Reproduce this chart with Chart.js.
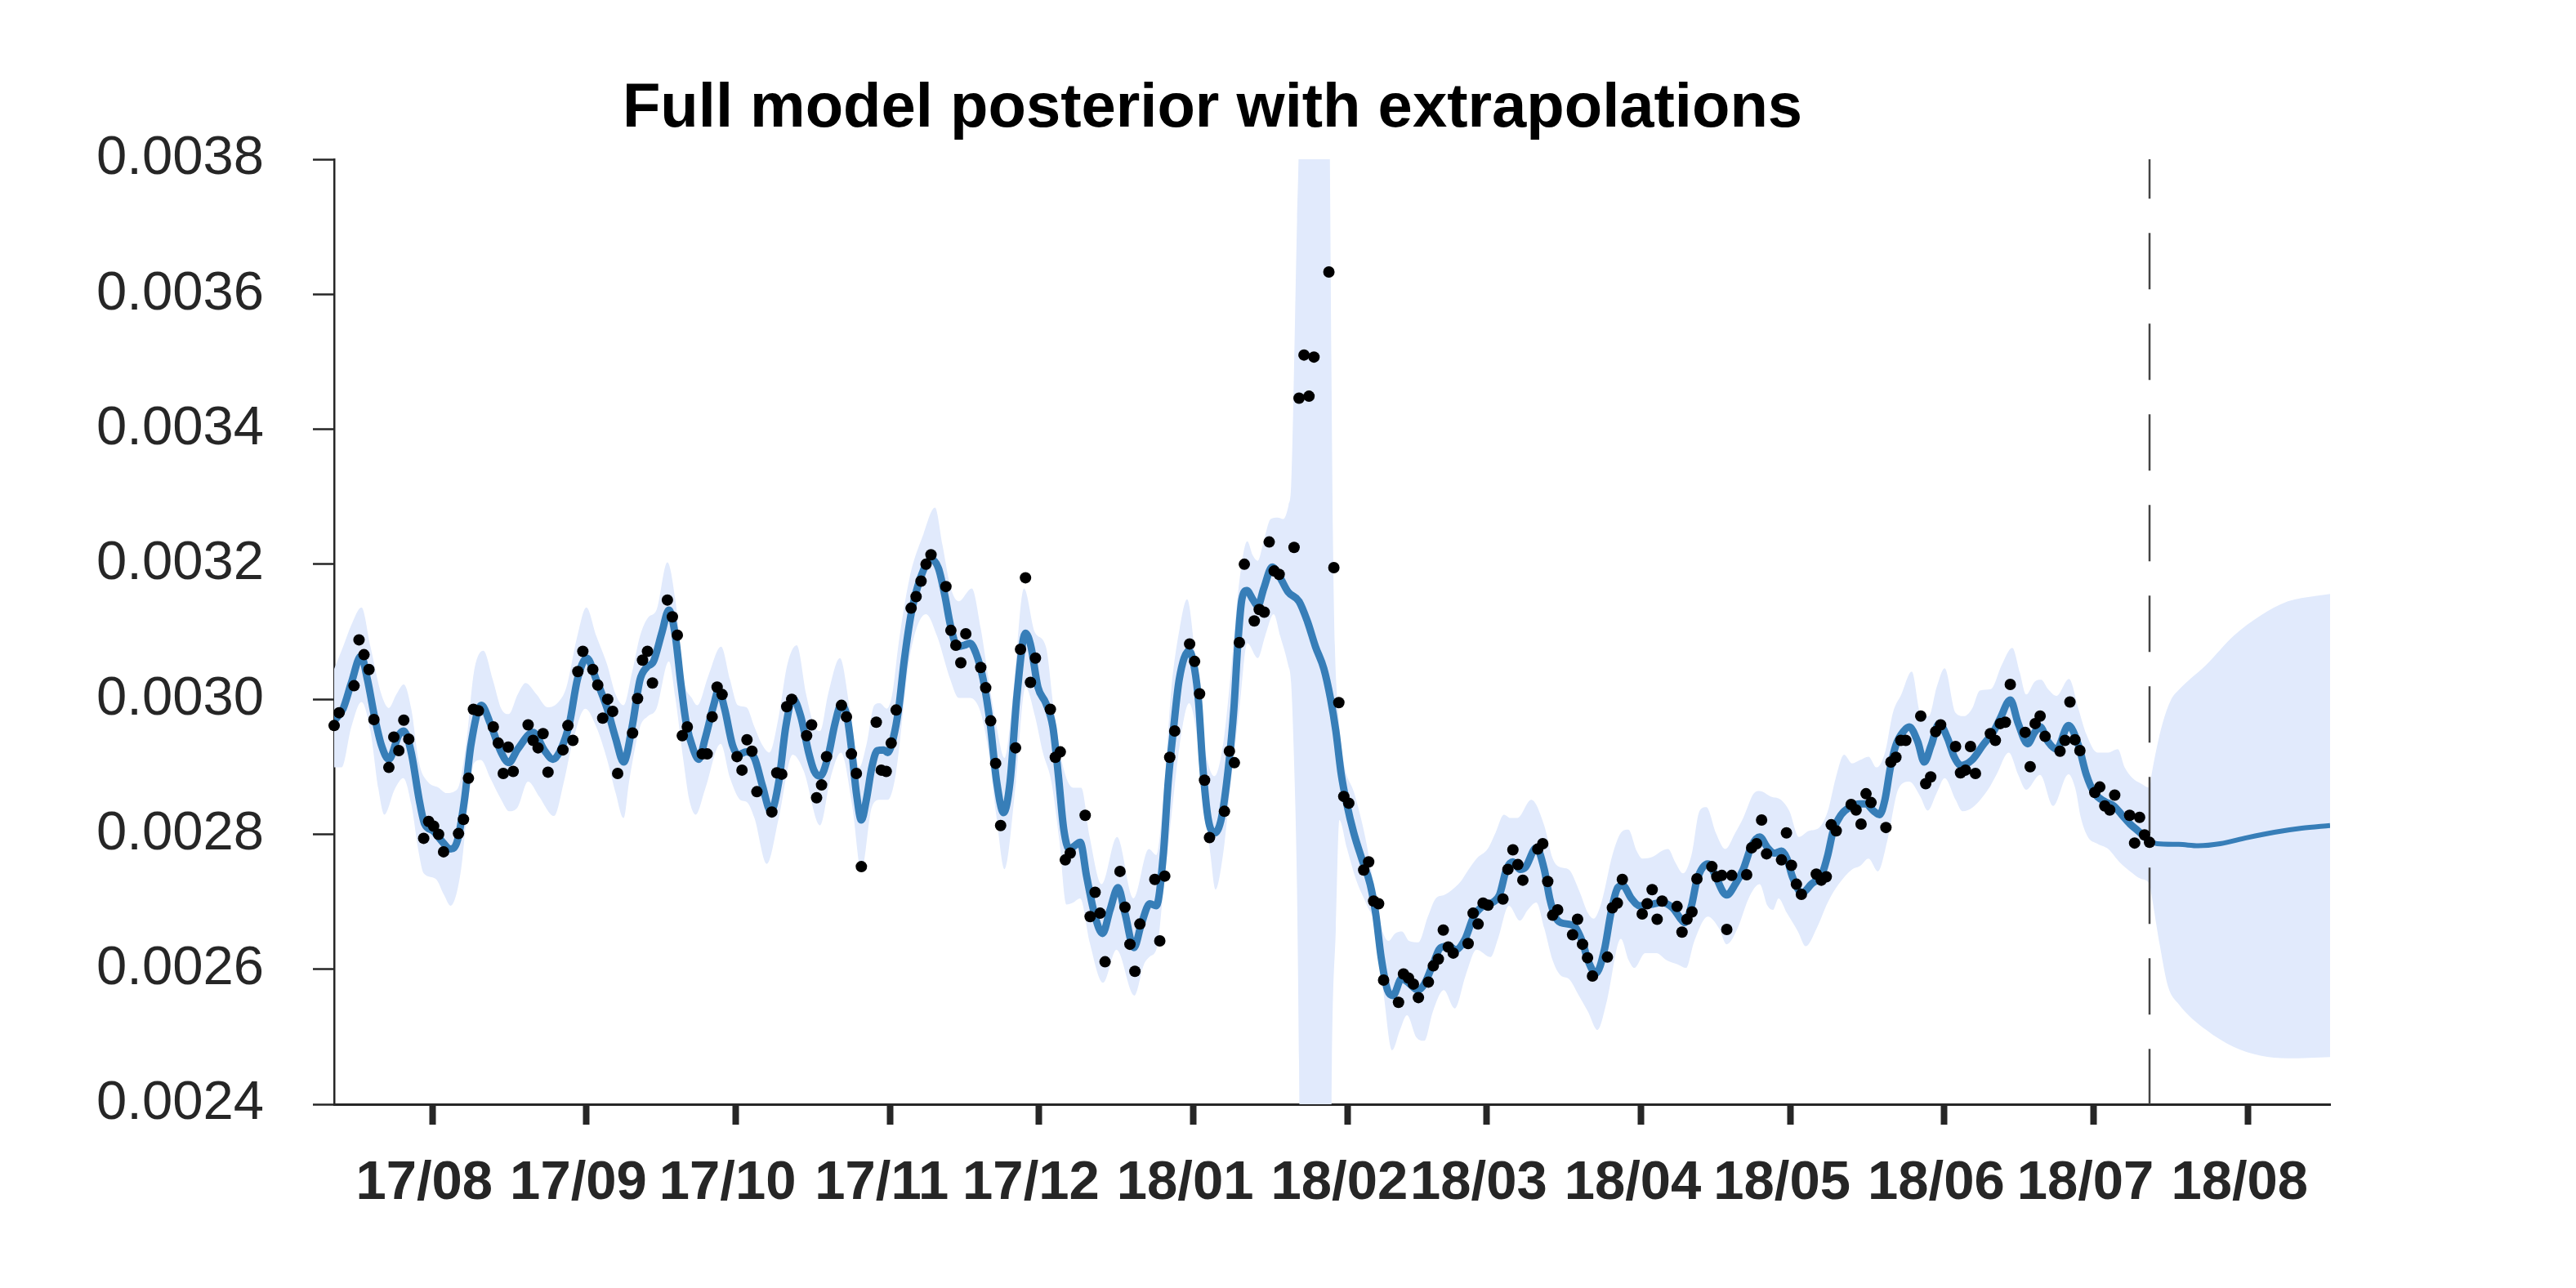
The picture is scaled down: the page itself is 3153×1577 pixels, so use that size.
<!DOCTYPE html>
<html>
<head>
<meta charset="utf-8">
<script src="https://cdn.jsdelivr.net/npm/chart.js@4.4.1/dist/chart.umd.min.js"></script>
<style>
  html, body { margin: 0; padding: 0; background: #fff; }
  canvas { display: block; }
</style>
</head>
<body>
<canvas id="grafico" width="3153" height="1577"></canvas>
<script>
// ---- dados ----
const titulo = 'Full model posterior with extrapolations';

// dias de cotação: seg-sex entre as datas, menos feriados, mais alguns domingos que aparecem
const inicio = '2017-07-13';
const fim = '2018-07-13';
const feriados = ['2018-03-30'];
const domingosExtra = ['2017-09-03', '2018-01-14', '2018-02-18'];

// uma linha por semana
const cotacao = [
  0.002961, 0.002980,
  0.003020, 0.003088, 0.003066, 0.003044, 0.002970,
  0.002899, 0.002944, 0.002924, 0.002969, 0.002941,
  0.002794, 0.002819, 0.002812, 0.002800, 0.002774,
  0.002801, 0.002822, 0.002883, 0.002985, 0.002983,
  0.002959, 0.002935, 0.002890, 0.002929, 0.002893,
  0.002962, 0.002939, 0.002928, 0.002949, 0.002892,
  0.002925, 0.002961, 0.002939, 0.003041, 0.003071,
  0.003044, 0.003021, 0.002972, 0.003000, 0.002982, 0.002890,
  0.002950, 0.003001, 0.003058, 0.003071, 0.003024,
  0.003147, 0.003122, 0.003095, 0.002946, 0.002959,
  0.002919, 0.002919, 0.002974, 0.003018, 0.003007,
  0.002915, 0.002895, 0.002940, 0.002923, 0.002863,
  0.002833, 0.002891, 0.002889, 0.002989, 0.003000,
  0.002946, 0.002962, 0.002854, 0.002873, 0.002915,
  0.002991, 0.002974, 0.002919, 0.002890, 0.002752,
  0.002966, 0.002895, 0.002893, 0.002935, 0.002984,
  0.003135, 0.003152, 0.003175, 0.003200, 0.003214,
  0.003167, 0.003102, 0.003080, 0.003054, 0.003097,
  0.003047, 0.003017, 0.002968, 0.002905, 0.002813,
  0.002928, 0.003074, 0.003180, 0.003025, 0.003061,
  0.002985, 0.002914, 0.002922, 0.002762, 0.002772,
  0.002828, 0.002678, 0.002714, 0.002683, 0.002611,
  0.002745, 0.002692, 0.002637, 0.002597, 0.002667,
  0.002733, 0.002642, 0.002738, 0.002914, 0.002953,
  0.003082, 0.003056, 0.003008, 0.002880, 0.002795,
  0.002834, 0.002923, 0.002906, 0.003084, 0.003200,
  0.003116, 0.003133, 0.003129, 0.003233, 0.003190, 0.003185,
  0.003225, 0.003446, 0.003510, 0.003449, 0.003507,
  0.003633, 0.003195, 0.002995, 0.002856, 0.002846,
  0.002747, 0.002759, 0.002701, 0.002697, 0.002584,
  0.002551, 0.002593, 0.002587, 0.002578, 0.002558,
  0.002581, 0.002605, 0.002615, 0.002658, 0.002633, 0.002624,
  0.002638, 0.002683, 0.002667, 0.002698, 0.002695,
  0.002704, 0.002748, 0.002777, 0.002755, 0.002732,
  0.002778, 0.002786, 0.002730, 0.002680, 0.002688,
  0.002651, 0.002674, 0.002637, 0.002617, 0.002590,
  0.002618, 0.002691, 0.002698, 0.002733,
  0.002682, 0.002697, 0.002718, 0.002674, 0.002701,
  0.002693, 0.002655, 0.002674, 0.002685, 0.002734,
  0.002752, 0.002737, 0.002739, 0.002659, 0.002739,
  0.002740, 0.002780, 0.002786, 0.002821, 0.002771,
  0.002762, 0.002802, 0.002754, 0.002726, 0.002711,
  0.002741, 0.002732, 0.002737, 0.002814, 0.002805,
  0.002844, 0.002836, 0.002815, 0.002860, 0.002847,
  0.002810, 0.002907, 0.002914, 0.002939, 0.002939,
  0.002975, 0.002875, 0.002885, 0.002952, 0.002962,
  0.002930, 0.002891, 0.002895, 0.002930, 0.002890,
  0.002949, 0.002939, 0.002964, 0.002966, 0.003022,
  0.002951, 0.002900, 0.002964, 0.002975, 0.002945,
  0.002923, 0.002939, 0.002996, 0.002940, 0.002924,
  0.002862, 0.002870, 0.002842, 0.002836, 0.002858,
  0.002828, 0.002787, 0.002825, 0.002799, 0.002788
];

// média a posteriori: [dias desde a 1a cotação, valor]
const mediaObs = [
  [0,.002968],[1.8,.002986],[3.45,.003024],[5.4,.003064],[6.7,.003029],[8.1,.002975],[9.5,.002932],[11,.002911],
  [13,.002947],[14,.002953],[15.5,.002921],[17.1,.002851],[18.2,.002815],[19.9,.002805],[21.5,.002791],[23.4,.002778],
  [24.8,.002791],[26.2,.002851],[27.5,.002932],[29.6,.002991],[31.4,.002964],[33.6,.002921],[35.1,.002906],[36.9,.002926],
  [40,.002951],[42.3,.002924],[44,.002911],[45.6,.002926],[47.3,.002964],[48.9,.003029],[50.8,.003061],[52.7,.003029],
  [54.9,.002986],[56.6,.002942],[58.2,.002907],[59.9,.002959],[61.5,.003029],[62.9,.003048],[64.2,.003056],[65.9,.003099],
  [67.3,.003132],[68.6,.003094],[69.7,.003024],[70.8,.002964],[72.2,.002926],[73.3,.002911],[74.6,.002942],[76.3,.002991],
  [77.3,.003014],[78.5,.002986],[80.1,.002932],[81.2,.002918],[82.9,.002922],[84.5,.002913],[86.1,.002872],[87.8,.002834],
  [89.4,.002878],[90.8,.002959],[92.2,.003001],[93.8,.002975],[95.4,.002921],[96.5,.002894],[97.7,.002886],[99.3,.002915],
  [100.7,.002964],[101.9,.002991],[103.1,.002975],[104.2,.002915],[105,.002861],[106,.002821],[107,.002851],[108.1,.002899],
  [109.2,.002924],[110.5,.002925],[111.3,.002921],[112.4,.002942],[113.5,.002986],[114.6,.003056],[116,.003126],[117.9,.003180],
  [120,.003207],[121.5,.003194],[122.8,.003153],[123.9,.003110],[125.3,.003078],[126.7,.003080],[127.8,.003083],[129.1,.003067],
  [130.5,.003029],[131.9,.002964],[133.2,.002878],[134.6,.002832],[135.9,.002878],[137.3,.003007],[139,.003098],[140.1,.003078],
  [141.5,.003018],[143.1,.002994],[144.5,.002959],[145.6,.002888],[146.7,.002807],[147.8,.002778],[148.9,.002783],[150,.002788],
  [151.3,.002737],[153,.002678],[154.5,.002653],[156,.002688],[157.6,.002721],[159,.002683],[160.8,.002632],[162.3,.002667],
  [164,.002697],[165.3,.002694],[166.7,.002769],[167.7,.002878],[168.8,.002959],[169.9,.003029],[171.9,.003072],[173,.003045],
  [173.8,.002996],[174.6,.002905],[175.7,.002824],[177,.002802],[178.4,.002824],[179.8,.002899],[180.9,.002986],[181.7,.003083],
  [182.5,.003148],[183.5,.003161],[184.7,.003148],[185.7,.003138],[186.9,.003164],[188.6,.003196],[190.2,.003180],[191.8,.003159],
  [194,.003145],[195.7,.003115],[197.3,.003078],[199,.003045],[200.3,.003002],[201.4,.002953],[202.5,.002888],[203.6,.002845],
  [205,.002802],[206.6,.002764],[208.3,.002726],[209.4,.002683],[210.5,.002618],[211.8,.002569],[212.9,.002561],[214.6,.002586],
  [216,.002580],[217.9,.002569],[219.2,.002578],[220.9,.002607],[222.5,.002632],[224.2,.002634],[225.5,.002629],[227.4,.002645],
  [229.1,.002678],[231,.002694],[232.9,.002699],[234.3,.002710],[235.7,.002748],[237,.002759],[238.4,.002748],[239.5,.002751],
  [241.7,.002780],[243.3,.002748],[244.4,.002705],[245.5,.002678],[246.6,.002669],[249.3,.002664],[251,.002640],[252.1,.002613],
  [253.7,.002594],[255.4,.002629],[256.7,.002683],[258.1,.002721],[259.1,.002724],[260.8,.002705],[262.5,.002694],[264.7,.002696],
  [266.9,.002699],[269.1,.002691],[270.7,.002675],[271.5,.002669],[272.9,.002694],[274,.002732],[276.2,.002756],[277.8,.002737],
  [279.2,.002715],[280,.002710],[281.7,.002726],[283.3,.002748],[285,.002783],[286.6,.002796],[288.2,.002780],[289.6,.002772],
  [291,.002775],[292.1,.002764],[293.2,.002737],[295.1,.002713],[297,.002726],[299.2,.002742],[300.3,.002769],[301.4,.002805],
  [303,.002829],[304.7,.002840],[306.8,.002845],[307.9,.002845],[309.6,.002834],[310.7,.002829],[311.8,.002851],[312.9,.002899],
  [314,.002932],[315.6,.002953],[316.7,.002959],[318.4,.002937],[319.7,.002907],[321.1,.002932],[322.7,.002964],[324.4,.002942],
  [325.7,.002915],[327.1,.002902],[329.3,.002910],[331.5,.002932],[333.7,.002953],[335,.002972],[337,.002999],[338.6,.002964],
  [340.5,.002934],[341.9,.002951],[343,.002959],[344.6,.002937],[346.3,.002926],[348.7,.002961],[350.7,.002932],[352.3,.002888],
  [353.9,.002861],[356.1,.002848],[357.8,.002842],[359.4,.002829],[361.1,.002815],[362.7,.002805],[365,.002790]
];
const mediaPrev = [
  [365,.002790],[366.5,.002786],[370.9,.002785],[374.8,.002783],[379.2,.002786],[384.6,.002795],[390.1,.002803],
  [395.6,.002809],[401.3,.002813]
];

// limites da faixa de incerteza
const limSupObs = [
  [0,.003045],[1.8,.003078],[3.45,.003110],[5.5,.003136],[7.3,.003078],[9.5,.003007],[11,.002987],[12.5,.003007],
  [14,.003022],[15.5,.002986],[17.1,.002905],[18.8,.002878],[21,.002869],[22.6,.002861],[24.8,.002867],[26.5,.002932],
  [28.1,.003040],[30,.003072],[31.9,.003029],[33.6,.002986],[35.1,.002978],[36.9,.003007],[38.5,.003024],[40.7,.003007],
  [42.9,.002988],[45.1,.002996],[46.7,.003018],[48.9,.003094],[50.7,.003136],[52.7,.003094],[54.9,.003051],[56.6,.003007],
  [58.2,.002991],[59.9,.003040],[61.5,.003094],[63.1,.003121],[64.8,.003132],[67,.003203],[68.6,.003148],[70.3,.003029],
  [71.9,.003002],[73,.002991],[75.2,.003034],[77.8,.003078],[79.6,.003029],[81.2,.002991],[82.9,.002988],[84.5,.002959],
  [86.1,.002932],[87.5,.002921],[89.4,.002975],[91.1,.003051],[93,.003080],[94.9,.003007],[96.6,.002959],[97.7,.002953],
  [99.3,.003007],[101.7,.003061],[103.7,.002986],[105.6,.002899],[107,.002932],[108.6,.002991],[109.7,.002994],[111.1,.002986],
  [112.2,.003007],[113.5,.003083],[115.7,.003180],[118.5,.003245],[120.8,.003284],[122.3,.003229],[124,.003164],[125.6,.003145],
  [128.2,.003164],[130,.003105],[131.6,.003029],[133.2,.002959],[134.8,.002913],[136.5,.003007],[138.7,.003164],[140.9,.003099],
  [143.1,.003078],[144.7,.002986],[146.4,.002905],[148.6,.002869],[150.2,.002869],[151.9,.002796],[154.3,.002726],[157.4,.002796],
  [160.7,.002705],[163.8,.002778],[165.3,.002769],[166.7,.002851],[168.3,.003013],[170,.003105],[171.5,.003148],[173,.003072],
  [174.3,.002964],[175.7,.002905],[177,.002886],[178.7,.002932],[180.3,.003040],[182,.003175],[183.6,.003234],[184.7,.003213],
  [185.7,.003205],[186.9,.003234],[188.3,.003267],[189.7,.003269],[190.8,.003267],[191.9,.003288],[192.4,.003315],[192.8,.003421],
  [193.2,.003566],[193.6,.003710],[193.9,.003800],[194.3,.004000],[199.9,.004000],[200.2,.003800],[200.5,.003500],[200.8,.003250],
  [201.2,.003080],[201.8,.002990],[202.9,.002910],[205.1,.002861],[207.3,.002796],[209,.002726],[210.6,.002661],[212,.002642],
  [213.3,.002653],[214.7,.002656],[216.1,.002642],[218,.002640],[219.9,.002678],[221.5,.002705],[223.2,.002710],[224.8,.002718],
  [226.4,.002729],[228.1,.002748],[229.7,.002764],[231.9,.002778],[233.5,.002802],[235.2,.002829],[236.5,.002824],[237.9,.002824],
  [240.7,.002851],[243.3,.002813],[245,.002764],[246.6,.002751],[248.2,.002748],[250.4,.002715],[252.1,.002683],[253.2,.002675],
  [254.8,.002699],[257,.002769],[258.7,.002802],[260.2,.002807],[261.9,.002775],[263,.002764],[265.2,.002767],[266.9,.002775],
  [268.2,.002778],[269.6,.002759],[271.2,.002742],[272.9,.002769],[274.5,.002834],[275.9,.002840],[277.8,.002802],[279.7,.002778],
  [281.7,.002802],[283.3,.002824],[285.5,.002861],[286.6,.002864],[288.8,.002856],[290.9,.002851],[292.6,.002834],[294.5,.002796],
  [296.5,.002805],[298.6,.002810],[300.3,.002834],[301.9,.002883],[303.6,.002918],[305.2,.002905],[306.8,.002910],[308.5,.002915],
  [310.1,.002899],[311.8,.002921],[313.4,.002980],[315.1,.003007],[317.2,.003041],[318.9,.002980],[320.6,.002975],[322.2,.003018],
  [323.8,.003046],[326,.002980],[327.7,.002975],[329.3,.002986],[330.9,.003013],[333.1,.003015],[335.3,.003051],[337.4,.003076],
  [338.9,.003040],[340.2,.003007],[341.9,.003026],[343.2,.003029],[344.6,.003015],[346.3,.003005],[348.8,.003030],[350.7,.002986],
  [352.3,.002948],[354.5,.002921],[356.7,.002921],[358.6,.002926],[360,.002899],[361.6,.002883],[363.3,.002875],[365,.002869]
];
const limSupPrev = [
  [365.4,.002888],[366.5,.002930],[367.6,.002964],[369.3,.002999],[370.9,.003014],[376.4,.003051],[381.9,.003094],
  [387.3,.003124],[392.8,.003145],[398.3,.003153],[401.3,.003156]
];
const limInfObs = [
  [0,.002899],[1.5,.002899],[3.45,.002959],[5.5,.002996],[7.3,.002953],[8.9,.002867],[10.1,.002829],[12.2,.002867],
  [13.9,.002883],[15.5,.002845],[17.1,.002769],[18,.002742],[20.4,.002734],[22.1,.002710],[23.4,.002694],[25.4,.002742],
  [27,.002851],[28.1,.002905],[29.5,.002910],[31.4,.002883],[33.6,.002851],[35.2,.002834],[36.9,.002840],[39,.002878],
  [41.2,.002856],[44.2,.002827],[46.2,.002878],[47.8,.002932],[50.5,.002986],[52.7,.002959],[54.9,.002910],[56.6,.002861],
  [58.2,.002824],[59.3,.002878],[61.5,.002959],[63.1,.002975],[64.8,.002986],[67.3,.003056],[68.6,.003002],[70.3,.002905],
  [71.4,.002851],[72.7,.002829],[74.6,.002867],[77.7,.002934],[79.6,.002883],[81.8,.002850],[82.9,.002848],[84.5,.002824],
  [87,.002756],[89.4,.002824],[92.2,.002918],[94.4,.002894],[97.7,.002813],[99.8,.002883],[101.9,.002921],[104.2,.002840],
  [106,.002745],[108.1,.002840],[109.7,.002851],[111.3,.002851],[112.9,.002888],[115.7,.003061],[119,.003126],[121.2,.003094],
  [123.9,.003029],[125.6,.003002],[127.8,.003002],[130,.002980],[131.6,.002921],[133.2,.002824],[134.8,.002748],[137.1,.002878],
  [139,.003018],[140.9,.002975],[142.5,.002921],[144.2,.002878],[145.8,.002791],[147.2,.002696],[148.6,.002699],[150,.002705],
  [151.9,.002640],[154.6,.002580],[157.3,.002629],[160.9,.002561],[162.8,.002607],[163.9,.002618],[165.5,.002634],[166.7,.002715],
  [168.3,.002824],[170,.002932],[171.9,.002994],[173.2,.002959],[174.9,.002851],[176.2,.002769],[177.2,.002718],[178.7,.002769],
  [180.3,.002878],[182,.002986],[183.6,.003083],[185.7,.003061],[187.2,.003094],[188.9,.003126],[190.2,.003094],[191.8,.003051],
  [192.4,.003025],[192.9,.002932],[193.6,.002715],[194,.002462],[194.3,.002200],[200.3,.002200],[200.6,.002462],[201.4,.002661],
  [202.1,.002821],[203.6,.002780],[205.5,.002732],[207.7,.002694],[209.4,.002661],[211,.002564],[212.7,.002480],[214.3,.002510],
  [215.7,.002532],[217.6,.002499],[219.2,.002494],[220.9,.002537],[223.1,.002569],[225.3,.002542],[227.5,.002591],[229.7,.002629],
  [232.5,.002618],[234,.002645],[236.2,.002694],[238.4,.002672],[240,.002688],[241.7,.002699],[243.3,.002661],[245,.002613],
  [246.6,.002591],[248.2,.002586],[250.4,.002559],[252.1,.002537],[254,.002510],[255.9,.002553],[258.7,.002645],[260.3,.002613],
  [261.4,.002602],[263.6,.002624],[265.8,.002624],[268,.002613],[270.2,.002607],[271.8,.002602],[273.4,.002640],[276.2,.002678],
  [278.4,.002661],[280,.002637],[282.2,.002661],[284.4,.002705],[286.6,.002726],[288.2,.002694],[289.3,.002688],[290.4,.002705],
  [292.1,.002683],[294.3,.002656],[295.9,.002634],[298.1,.002661],[300.3,.002699],[302.5,.002726],[305.2,.002748],[306.8,.002753],
  [308.5,.002764],[310.4,.002745],[312.3,.002791],[314.5,.002867],[316.7,.002878],[318.9,.002856],[320.4,.002835],[322.2,.002861],
  [323.8,.002883],[326,.002851],[327.4,.002834],[329.5,.002840],[332.6,.002867],[334.2,.002888],[336.7,.002921],[338.6,.002888],
  [340.2,.002866],[343,.002888],[345.6,.002842],[348.7,.002889],[350.1,.002867],[351.2,.002824],[352.6,.002796],[354.5,.002786],
  [356.7,.002778],[358.9,.002759],[361.1,.002745],[363.3,.002734],[365,.002726]
];
const limInfPrev = [
  [365.4,.002710],[367.1,.002634],[368.7,.002575],[370.9,.002548],[376.4,.002510],[381.9,.002485],[387.3,.002472],
  [392.8,.002468],[401.3,.002470]
];

// eixos
const ticksY = [0.0024, 0.0026, 0.0028, 0.0030, 0.0032, 0.0034, 0.0036, 0.0038];
const mesesEixo = ['2017-08', '2017-09', '2017-10', '2017-11', '2017-12', '2018-01', '2018-02',
                   '2018-03', '2018-04', '2018-05', '2018-06', '2018-07', '2018-08'];

// ---- montagem ----
const DIA = 86400000;
// as cotações ficam carimbadas às 06:00 UTC do dia anterior; zero do eixo = 1a cotação
const ORIGEM = Date.UTC(2017, 6, 12, 6);
const dia = ms => (ms - ORIGEM) / DIA;

function diasDeCotacao() {
  const lista = [];
  let t = Date.parse(inicio + 'T00:00:00Z');
  const tFim = Date.parse(fim + 'T00:00:00Z');
  while (t <= tFim) {
    const iso = new Date(t).toISOString().slice(0, 10);
    const semana = new Date(t).getUTCDay();
    const util = semana >= 1 && semana <= 5 && !feriados.includes(iso);
    if (util || domingosExtra.includes(iso)) lista.push(iso);
    t += DIA;
  }
  return lista;
}

const datas = diasDeCotacao();
if (datas.length !== cotacao.length) {
  throw new Error('datas ' + datas.length + ' x cotacoes ' + cotacao.length);
}

const pontos = datas.map((iso, i) => ({ x: dia(Date.parse(iso + 'T00:00:00Z') - 18 * 3600000), y: cotacao[i] }));
const emXY = pares => pares.map(p => ({ x: p[0], y: p[1] }));
const ultimo = pontos[pontos.length - 1].x;
const xMax = mediaPrev[mediaPrev.length - 1][0];

const ticksX = mesesEixo.map(m => dia(Date.parse(m + '-01T00:00:00Z')));
const rotulosX = mesesEixo.map(m => m.slice(2, 4) + '/' + m.slice(5, 7));

const corFaixa = 'rgb(225, 234, 252)';
const corMedia = '#377eb8';
const corEixo = '#262626';

// título fora do centro, como no original
const tituloPlugin = {
  id: 'tituloPlugin',
  afterDraw(chart) {
    const c = chart.ctx;
    c.save();
    c.font = 'bold 76px "Liberation Sans", Arial, sans-serif';
    c.fillStyle = '#000';
    c.textAlign = 'center';
    c.textBaseline = 'alphabetic';
    c.fillText(titulo, 1484, 155);
    c.restore();
  }
};

Chart.defaults.font.family = '"Liberation Sans", Arial, sans-serif';

const ctx = document.getElementById('grafico').getContext('2d');
new Chart(ctx, {
  type: 'line',
  data: {
    datasets: [
      {
        // faixa: limite superior preenchido até o inferior (+1)
        data: emXY(limSupObs.concat(limSupPrev)),
        borderColor: 'rgba(0,0,0,0)',
        borderWidth: 0,
        backgroundColor: corFaixa,
        fill: '+1',
        pointRadius: 0,
        cubicInterpolationMode: 'monotone',
        order: 10
      },
      {
        data: emXY(limInfObs.concat(limInfPrev)),
        borderColor: 'rgba(0,0,0,0)',
        borderWidth: 0,
        fill: false,
        pointRadius: 0,
        cubicInterpolationMode: 'monotone',
        order: 11
      },
      {
        // linha tracejada no fim dos dados
        data: [{ x: ultimo, y: ticksY[ticksY.length - 1] }, { x: ultimo, y: ticksY[0] }],
        borderColor: '#444444',
        borderWidth: 2.5,
        borderDash: [69, 42],
        borderDashOffset: 20.7,
        pointRadius: 0,
        fill: false,
        tension: 0,
        order: 5
      },
      {
        data: emXY(mediaPrev),
        borderColor: corMedia,
        borderWidth: 6,
        pointRadius: 0,
        fill: false,
        cubicInterpolationMode: 'monotone',
        order: 3
      },
      {
        data: emXY(mediaObs),
        borderColor: corMedia,
        borderWidth: 9,
        borderJoinStyle: 'round',
        pointRadius: 0,
        fill: false,
        cubicInterpolationMode: 'monotone',
        order: 2
      },
      {
        data: pontos,
        showLine: false,
        pointRadius: 7,
        pointBackgroundColor: '#000',
        pointBorderColor: '#000',
        pointBorderWidth: 0,
        clip: false,
        order: 1
      }
    ]
  },
  options: {
    responsive: false,
    animation: false,
    devicePixelRatio: 1,
    events: [],
    layout: { padding: { left: 0, top: 195, right: 301, bottom: 95 } },
    plugins: {
      legend: { display: false },
      tooltip: { enabled: false },
      title: { display: false }
    },
    scales: {
      x: {
        type: 'linear',
        min: 0,
        max: xMax,
        afterBuildTicks: s => { s.ticks = ticksX.map(v => ({ value: v })); },
        afterFit: s => { s.height = 130; },
        grid: { drawOnChartArea: false, drawTicks: true, tickLength: 25, tickWidth: 8, tickColor: corEixo },
        border: { display: true, color: corEixo, width: 3 },
        ticks: {
          autoSkip: false, maxRotation: 0, minRotation: 0,
          padding: 32, labelOffset: -10,
          color: corEixo,
          font: { size: 67, weight: 'bold' },
          callback: (v, i) => rotulosX[i]
        }
      },
      y: {
        min: ticksY[0],
        max: ticksY[ticksY.length - 1],
        afterBuildTicks: s => { s.ticks = ticksY.map(v => ({ value: v })); },
        afterFit: s => { s.width = 409; },
        grid: { drawOnChartArea: false, drawTicks: true, tickLength: 26, tickWidth: 2.5, tickColor: corEixo },
        border: { display: true, color: corEixo, width: 2.5 },
        ticks: {
          padding: 60,
          color: corEixo,
          font: { size: 67 },
          callback: v => Number(v).toFixed(4)
        }
      }
    }
  },
  plugins: [tituloPlugin]
});
</script>
</body>
</html>
